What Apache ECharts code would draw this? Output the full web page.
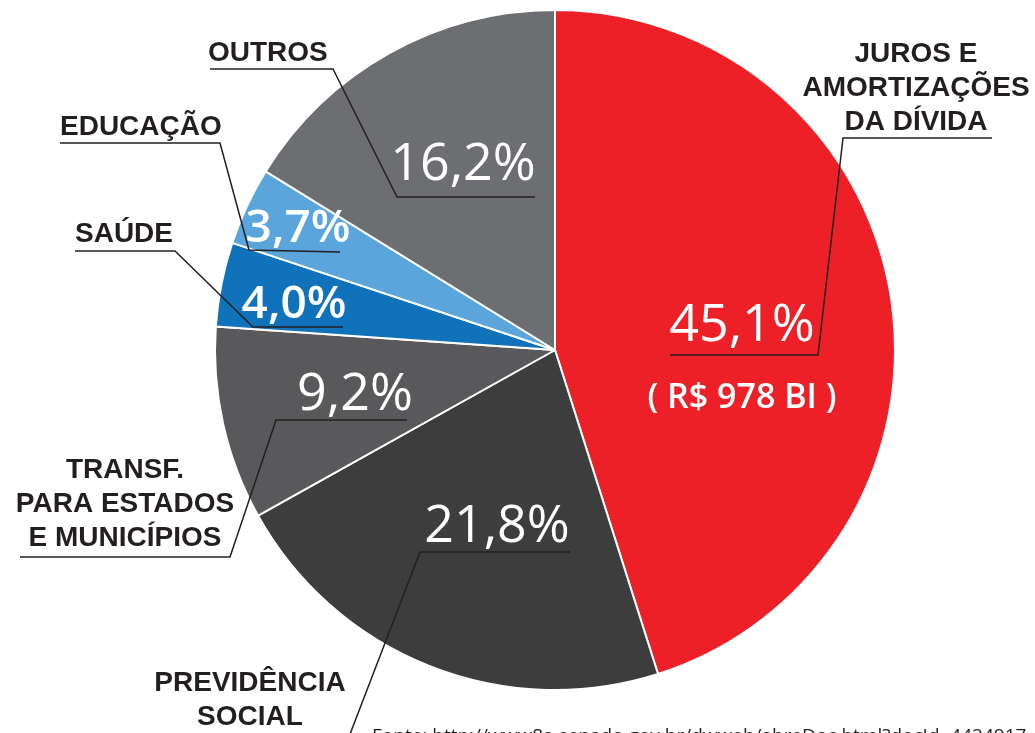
<!DOCTYPE html>
<html>
<head>
<meta charset="utf-8">
<script src="https://cdn.jsdelivr.net/npm/echarts@6/dist/echarts.min.js"></script>
<style>
  html, body { margin: 0; padding: 0; background: #fff; }
  #chart { width: 1035px; height: 733px; }
</style>
</head>
<body>
<div id="chart"></div>
<script>
// dados
const categories = ['JUROS E\nAMORTIZAÇÕES\nDA DÍVIDA', 'PREVIDÊNCIA\nSOCIAL', 'TRANSF.\nPARA ESTADOS\nE MUNICÍPIOS', 'SAÚDE', 'EDUCAÇÃO', 'OUTROS'];
const shares = [45.1, 21.8, 9.2, 4.0, 3.7, 16.2];
const amountNote = '( R$ 978 BI )';
const sourceNote = 'Fonte: http://www8a.senado.gov.br/dwweb/abreDoc.html?docId=4424917';
const colors = ['#ed2027', '#3d3d3e', '#59595b', '#1172bc', '#59a5dc', '#6d6e72'];

// posição dos rótulos (px)
const nameLayout = [
  { x: 916, y: 88, align: 'center' },
  { x: 250, y: 700, align: 'center' },
  { x: 125, y: 504, align: 'center' },
  { x: 75, y: 234, align: 'left' },
  { x: 60, y: 127, align: 'left' },
  { x: 208, y: 53, align: 'left' }
];
const pctLayout = [
  { x: 742, y: 362 },
  { x: 497, y: 527 },
  { x: 355, y: 395 },
  { x: 294, y: 305 },
  { x: 298, y: 229 },
  { x: 463, y: 165 }
];
// fatias estreitas usam fonte menor e mais pesada
const pctFont = [
  { size: 52, weight: 400 },
  { size: 52, weight: 400 },
  { size: 52, weight: 400 },
  { size: 46, weight: 600 },
  { size: 46, weight: 600 },
  { size: 52, weight: 400 }
];
// linhas de chamada: sublinhado do nome -> sublinhado da porcentagem
const leaderLines = [
  [[992, 138], [843, 138], [818, 355], [670, 355]],
  [[200, 742], [347, 742], [420, 552], [570, 552]],
  [[20, 557], [230, 557], [276, 420], [407, 420]],
  [[75, 251], [175, 251], [253, 327], [343, 327]],
  [[60, 143], [220, 143], [249, 250], [340, 252]],
  [[210, 69], [333, 69], [397, 197], [535, 197]]
];

const chart = echarts.init(document.getElementById('chart'));

const pieData = categories.map((name, i) => ({
  name: name,
  value: shares[i],
  itemStyle: { color: colors[i] },
  label: { fontSize: pctFont[i].size, fontWeight: pctFont[i].weight }
}));

const fmtPct = (v) => v.toFixed(1).replace('.', ',') + '%';

const option = {
  animation: false,
  graphic: [
    {
      type: 'text',
      left: 372,
      top: 727,
      style: {
        text: sourceNote,
        fontFamily: 'Open Sans',
        fontSize: 19,
        fill: '#231f20'
      }
    }
  ],
  series: [
    {
      // fatias + porcentagens
      type: 'pie',
      z: 1,
      center: [555, 350],
      radius: 340,
      startAngle: 90,
      clockwise: true,
      silent: true,
      itemStyle: { borderColor: '#fff', borderWidth: 2 },
      label: {
        show: true,
        position: 'inside',
        color: '#fff',
        fontFamily: 'Open Sans',
        fontSize: 52,
        lineHeight: 60,
        formatter: (p) => p.dataIndex === 0
          ? '{p|' + fmtPct(p.value) + '}\n{s|' + amountNote + '}'
          : fmtPct(p.value),
        rich: {
          p: { fontFamily: 'Open Sans', fontSize: 52, lineHeight: 72, color: '#fff' },
          s: { fontFamily: 'Open Sans', fontSize: 34, fontWeight: 600, lineHeight: 72, color: '#fff' }
        }
      },
      labelLine: { show: false },
      labelLayout: (params) => ({
        x: pctLayout[params.dataIndex].x,
        y: pctLayout[params.dataIndex].y,
        align: 'center',
        verticalAlign: 'middle'
      }),
      data: pieData
    },
    {
      // nomes das categorias + linhas
      type: 'pie',
      z: 5,
      center: [555, 350],
      radius: 340,
      startAngle: 90,
      clockwise: true,
      silent: true,
      avoidLabelOverlap: false,
      itemStyle: { color: 'rgba(0,0,0,0)', borderWidth: 0 },
      label: {
        show: true,
        position: 'outside',
        color: '#231f20',
        fontFamily: 'Liberation Sans',
        fontWeight: 'bold',
        fontSize: 28,
        lineHeight: 34,
        formatter: '{b}'
      },
      labelLine: {
        show: true,
        lineStyle: { color: '#231f20', width: 1.5 }
      },
      labelLayout: (params) => ({
        x: nameLayout[params.dataIndex].x,
        y: nameLayout[params.dataIndex].y,
        align: nameLayout[params.dataIndex].align,
        verticalAlign: 'middle',
        labelLinePoints: leaderLines[params.dataIndex]
      }),
      data: categories.map((name, i) => ({
        name: name,
        value: shares[i],
        itemStyle: { color: 'rgba(0,0,0,0)' }
      }))
    }
  ]
};

chart.setOption(option);
window.addEventListener('resize', () => chart.resize());
</script>
</body>
</html>
